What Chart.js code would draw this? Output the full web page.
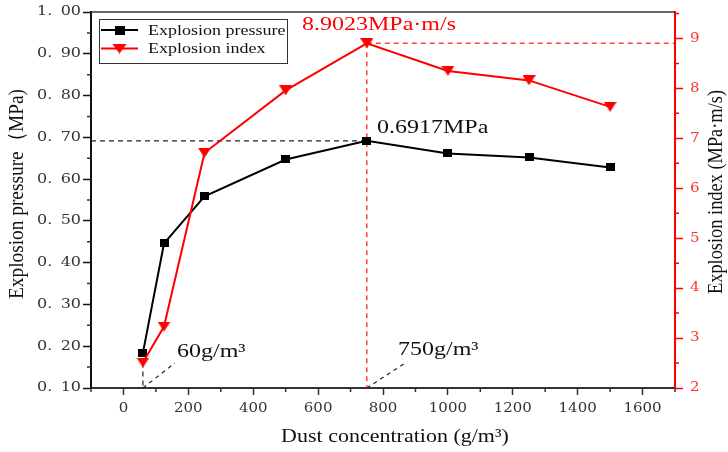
<!DOCTYPE html>
<html>
<head>
<meta charset="utf-8">
<script src="https://cdn.jsdelivr.net/npm/chart.js@4.4.1/dist/chart.umd.min.js"></script>
<style>
html, body { margin: 0; padding: 0; background: #fff; }
</style>
</head>
<body>
<canvas id="chart" width="728" height="452"></canvas>
<script>
// Dust concentration (g/m3)
const concentration = [60, 125, 250, 500, 750, 1000, 1250, 1500];
// Explosion pressure (MPa)
const pressure = [0.184, 0.446, 0.559, 0.647, 0.6917, 0.6615, 0.652, 0.628];
// Explosion index (MPa·m/s)
const explosionIndex = [2.51, 3.23, 6.71, 7.96, 8.9023, 8.35, 8.16, 7.63];

// ticks
const xTicks = [0, 200, 400, 600, 800, 1000, 1200, 1400, 1600];
const xMinorTicks = [-100, 100, 300, 500, 700, 900, 1100, 1300, 1500, 1700];
const pressureTicks = [0.1, 0.2, 0.3, 0.4, 0.5, 0.6, 0.7, 0.8, 0.9, 1.0];
const pressureMinorTicks = [0.15, 0.25, 0.35, 0.45, 0.55, 0.65, 0.75, 0.85, 0.95];
const indexTicks = [2, 3, 4, 5, 6, 7, 8, 9];
const indexMinorTicks = [2.5, 3.5, 4.5, 5.5, 6.5, 7.5, 8.5, 9.5];

// marked points
const peakConc = 750;
const peakPressure = 0.6917;
const peakIndex = 8.9023;
const lowConc = 60;

const RED = '#ff0000';
const RED_TXT = '#ff3030';
const DARK = '#222';
const SERIF = '"Liberation Serif", "Times New Roman", serif';
const TICKFONT = '"DejaVu Serif", serif';

// marker images (the picture is slightly squashed vertically)
function makeMarker(w, h, color, shape) {
    const c = document.createElement('canvas');
    c.width = w;
    c.height = h;
    const g = c.getContext('2d');
    g.fillStyle = color;
    if (shape === 'rect') {
        g.fillRect(0, 0, w, h);
    } else {
        g.beginPath();
        g.moveTo(0, 0);
        g.lineTo(w, 0);
        g.lineTo(w / 2, h);
        g.closePath();
        g.fill();
    }
    return c;
}
const squareMarker = makeMarker(9, 8, '#000', 'rect');
const triangleMarker = makeMarker(13, 10, RED, 'tri');
const squareLegend = makeMarker(10, 9, '#000', 'rect');
const triangleLegend = makeMarker(15, 10, RED, 'tri');

// text squashed vertically like the picture
function squashText(ctx, str, x, y, sy) {
    ctx.save();
    ctx.translate(x, y);
    ctx.scale(1, sy);
    ctx.fillText(str, 0, 0);
    ctx.restore();
}
// rotated title fitted to a given length
function sideTitle(ctx, str, x, y, len) {
    ctx.save();
    ctx.translate(x, y);
    ctx.rotate(-Math.PI / 2);
    const w = ctx.measureText(str).width;
    ctx.scale(len / w, 1);
    ctx.fillText(str, 0, 0);
    ctx.restore();
}

const overlay = {
    id: 'overlay',
    beforeDatasetsDraw(chart) {
        const ctx = chart.ctx;
        const x = chart.scales.x, y = chart.scales.y, y1 = chart.scales.y1;
        const bottom = chart.chartArea.bottom;
        ctx.save();
        ctx.lineWidth = 1.2;
        ctx.setLineDash([5, 4]);

        // black dashed: pressure peak to left axis
        ctx.strokeStyle = DARK;
        ctx.beginPath();
        ctx.moveTo(chart.chartArea.left, y.getPixelForValue(peakPressure));
        ctx.lineTo(x.getPixelForValue(peakConc), y.getPixelForValue(peakPressure));
        ctx.stroke();

        // black dashed: drop at low concentration
        ctx.beginPath();
        ctx.moveTo(x.getPixelForValue(lowConc), y1.getPixelForValue(explosionIndex[0]));
        ctx.lineTo(x.getPixelForValue(lowConc), bottom);
        ctx.stroke();

        // leader lines to the labels
        ctx.setLineDash([4, 4]);
        ctx.beginPath();
        ctx.moveTo(x.getPixelForValue(lowConc), bottom);
        ctx.lineTo(x.getPixelForValue(lowConc) + 32, bottom - 25);
        ctx.moveTo(x.getPixelForValue(peakConc), bottom);
        ctx.lineTo(x.getPixelForValue(peakConc) + 40, bottom - 26);
        ctx.stroke();

        // red dashed: index peak
        ctx.setLineDash([5, 4]);
        ctx.strokeStyle = 'rgba(255,0,0,0.75)';
        ctx.lineWidth = 1.5;
        ctx.beginPath();
        ctx.moveTo(x.getPixelForValue(peakConc), y1.getPixelForValue(peakIndex));
        ctx.lineTo(x.getPixelForValue(peakConc), bottom);
        ctx.moveTo(x.getPixelForValue(peakConc), y1.getPixelForValue(peakIndex));
        ctx.lineTo(chart.chartArea.right, y1.getPixelForValue(peakIndex));
        ctx.stroke();
        ctx.restore();
    },
    afterDraw(chart) {
        const ctx = chart.ctx;
        const area = chart.chartArea;
        const x = chart.scales.x, y = chart.scales.y, y1 = chart.scales.y1;
        ctx.save();

        // top frame line
        ctx.strokeStyle = '#333';
        ctx.lineWidth = 1.5;
        ctx.beginPath();
        ctx.moveTo(area.left, area.top);
        ctx.lineTo(area.right, area.top);
        ctx.stroke();

        // minor ticks
        ctx.beginPath();
        xMinorTicks.forEach(v => {
            const px = x.getPixelForValue(v);
            ctx.moveTo(px, area.bottom);
            ctx.lineTo(px, area.bottom + 4);
        });
        pressureMinorTicks.forEach(v => {
            const py = y.getPixelForValue(v);
            ctx.moveTo(area.left, py);
            ctx.lineTo(area.left - 4, py);
        });
        ctx.stroke();
        ctx.strokeStyle = RED;
        ctx.beginPath();
        indexMinorTicks.forEach(v => {
            const py = y1.getPixelForValue(v);
            ctx.moveTo(area.right, py);
            ctx.lineTo(area.right + 4, py);
        });
        ctx.stroke();

        // tick labels
        ctx.textBaseline = 'middle';
        ctx.font = '15px ' + TICKFONT;
        ctx.fillStyle = '#333';
        ctx.textAlign = 'center';
        x.ticks.forEach(t => squashText(ctx, String(t.value), x.getPixelForValue(t.value), area.bottom + 21, 0.85));
        ctx.textAlign = 'right';
        ctx.font = '16px ' + TICKFONT;
        y.ticks.forEach(t => squashText(ctx, t.value.toFixed(2).replace('.', '. \u2009'), 81, y.getPixelForValue(t.value), 0.82));
        ctx.textAlign = 'left';
        ctx.font = '15px ' + TICKFONT;
        ctx.fillStyle = RED_TXT;
        y1.ticks.forEach(t => squashText(ctx, String(t.value), area.right + 15, y1.getPixelForValue(t.value), 0.85));

        // annotation texts
        ctx.font = '24px ' + SERIF;
        ctx.fillStyle = RED;
        squashText(ctx, '8.9023MPa\u00b7m/s', 302, 25, 0.8);
        ctx.fillStyle = '#111';
        squashText(ctx, '0.6917MPa', 377, 128, 0.8);
        squashText(ctx, '60g/m\u00b3', 177, 352, 0.8);
        squashText(ctx, '750g/m\u00b3', 398, 350, 0.8);

        // axis titles
        ctx.font = '22px ' + SERIF;
        ctx.textAlign = 'center';
        squashText(ctx, 'Dust concentration (g/m\u00b3)', 395, 437, 0.88);
        sideTitle(ctx, 'Explosion pressure\uff08MPa)', 17, 194, 210);
        sideTitle(ctx, 'Explosion index (MPa\u00b7m/s)', 716, 192, 204);

        // legend
        ctx.strokeStyle = '#333';
        ctx.lineWidth = 1;
        ctx.strokeRect(99.5, 19.5, 188, 44);
        const rows = [
            { y: 30, color: '#000', text: 'Explosion pressure', img: squareLegend },
            { y: 48.5, color: RED, text: 'Explosion index', img: triangleLegend }
        ];
        rows.forEach(r => {
            ctx.strokeStyle = r.color;
            ctx.lineWidth = 2;
            ctx.beginPath();
            ctx.moveTo(101, r.y);
            ctx.lineTo(138, r.y);
            ctx.stroke();
            ctx.drawImage(r.img, 119.5 - r.img.width / 2, r.y - r.img.height / 2);
            ctx.fillStyle = '#111';
            ctx.textAlign = 'left';
            ctx.font = '18px ' + SERIF;
            squashText(ctx, r.text, 148, r.y + 1, 0.83);
        });
        ctx.restore();
    }
};

const ctx = document.getElementById('chart').getContext('2d');
new Chart(ctx, {
    type: 'line',
    data: {
        datasets: [
            {
                label: 'Explosion index',
                data: concentration.map((c, i) => ({ x: c, y: explosionIndex[i] })),
                yAxisID: 'y1',
                borderColor: RED,
                backgroundColor: RED,
                borderWidth: 2,
                pointStyle: triangleMarker,
                pointRadius: 7,
                tension: 0,
                order: 0
            },
            {
                label: 'Explosion pressure',
                data: concentration.map((c, i) => ({ x: c, y: pressure[i] })),
                yAxisID: 'y',
                borderColor: '#000',
                backgroundColor: '#000',
                borderWidth: 2,
                pointStyle: squareMarker,
                pointRadius: 6,
                tension: 0,
                order: 1
            }
        ]
    },
    options: {
        responsive: false,
        animation: false,
        devicePixelRatio: 1,
        events: [],
        layout: { padding: { top: 12, left: 0, right: 0, bottom: 0 } },
        plugins: {
            legend: { display: false },
            tooltip: { enabled: false }
        },
        scales: {
            x: {
                type: 'linear',
                min: -100,
                max: 1700,
                afterBuildTicks: s => { s.ticks = xTicks.map(v => ({ value: v })); },
                afterFit: s => { s.height = 64; },
                ticks: { display: false },
                grid: { drawOnChartArea: false, tickLength: 7, tickWidth: 1.5, color: '#333' },
                border: { color: '#333', width: 2 }
            },
            y: {
                position: 'left',
                min: 0.1,
                max: 1.0,
                afterBuildTicks: s => { s.ticks = pressureTicks.map(v => ({ value: v })); },
                afterFit: s => { s.width = 91; },
                ticks: { display: false },
                grid: { drawOnChartArea: false, tickLength: 8, tickWidth: 1.5, color: '#111' },
                border: { color: '#111', width: 2 }
            },
            y1: {
                position: 'right',
                min: 2,
                max: 9.53,
                afterBuildTicks: s => { s.ticks = indexTicks.map(v => ({ value: v })); },
                afterFit: s => { s.width = 53; },
                ticks: { display: false },
                grid: { drawOnChartArea: false, tickLength: 8, tickWidth: 1.5, color: RED },
                border: { color: RED, width: 2 }
            }
        }
    },
    plugins: [overlay]
});
</script>
</body>
</html>
